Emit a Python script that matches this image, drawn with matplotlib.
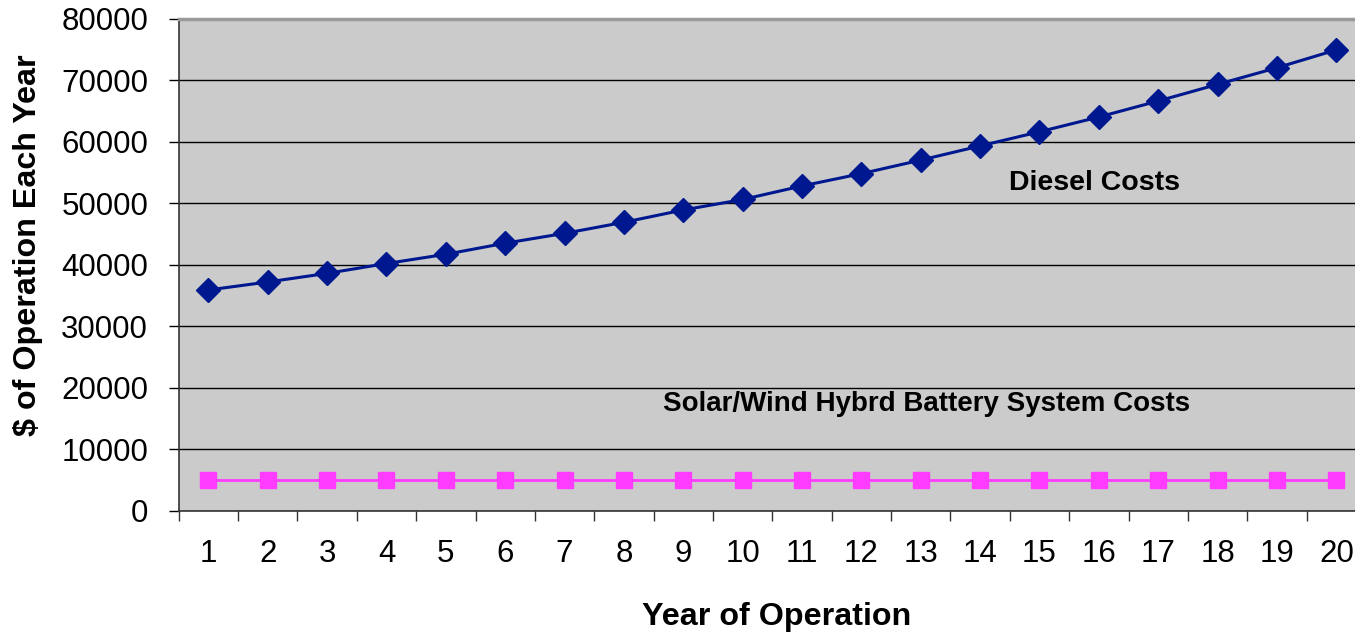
import numpy as np
import matplotlib
matplotlib.use("Agg")
from matplotlib import pyplot as plt

# data
years = list(range(1, 21))
diesel = [35900, 37200, 38600, 40200, 41700, 43500, 45100, 46900, 48900, 50600,
          52800, 54800, 57000, 59300, 61600, 64000, 66600, 69300, 72000, 74900]
hybrid = [5000] * 20

plt.rcParams['font.family'] = ['Liberation Sans', 'DejaVu Sans']

fig = plt.figure(figsize=(13.55, 6.32), dpi=100)
left = 178.7 / 1355
right = 1366 / 1355
bottom = 1 - 511 / 632
top = 1 - 18.5 / 632
ax = fig.add_axes([left, bottom, right - left, top - bottom])
ax.set_facecolor('#cbcbcb')

x = np.array(years)
ax.plot(x, diesel, color='#00188f', lw=2.2, marker='D', markersize=12, zorder=3)
ax.plot(x, hybrid, color='#ff3cff', lw=2, marker='s', markersize=11.5, zorder=3)

ax.set_xlim(0.5, 20.5)
ax.set_ylim(0, 80000)
ax.set_yticks(np.arange(0, 80001, 10000))
ax.yaxis.grid(True, color='black', lw=1)
ax.set_axisbelow(True)

ax.set_xticks(x)
ax.set_xticklabels([str(v) for v in years])
ax.set_xticks(np.arange(0.5, 21, 1), minor=True)
ax.tick_params(axis='x', which='major', length=0, pad=20, labelsize=22.5)
ax.tick_params(axis='x', which='minor', length=7, width=1, color='#333333')
ax.tick_params(axis='y', length=7, width=1, pad=15, labelsize=22.5)

for s in ['left', 'bottom']:
    ax.spines[s].set_color('#333333')
    ax.spines[s].set_linewidth(1.2)
ax.spines['top'].set_color('#999999')
ax.spines['top'].set_linewidth(2.5)
ax.spines['right'].set_visible(False)

ax.set_xlabel('Year of Operation', fontsize=23.2, fontweight='bold', labelpad=24, x=0.504)
ax.set_ylabel('$ of Operation Each Year', fontsize=23.2, fontweight='bold', labelpad=13, y=0.54)

ax.text(15.93, 53200, 'Diesel Costs', fontsize=20.5, fontweight='bold',
        ha='center', va='center')
ax.text(13.1, 17400, 'Solar/Wind Hybrd Battery System Costs', fontsize=20,
        fontweight='bold', ha='center', va='center')

fig.savefig('out.png', dpi=100)
